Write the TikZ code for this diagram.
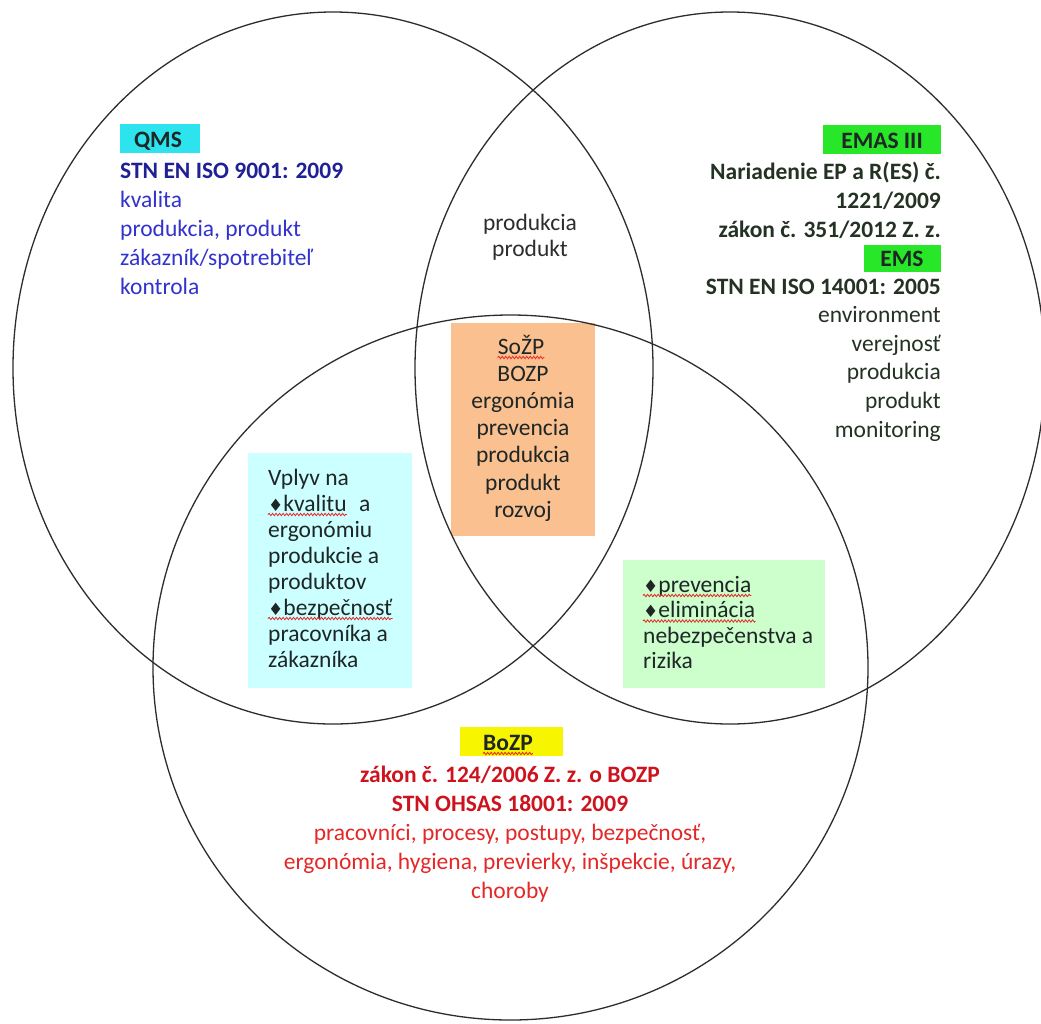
\documentclass[tikz,border=0pt]{standalone}
\usepackage{fontspec}
\setmainfont{Carlito}
\newfontfamily\symf{DejaVu Sans}
\usetikzlibrary{shapes.geometric,decorations.pathmorphing}
\definecolor{wavered}{RGB}{230,40,40}
\definecolor{qmscyan}{RGB}{45,228,238}
\definecolor{emsgreen}{RGB}{40,230,40}
\definecolor{bozpyellow}{RGB}{248,245,0}
\definecolor{orangebox}{RGB}{250,192,143}
\definecolor{cyanbox}{RGB}{204,255,255}
\definecolor{greenbox}{RGB}{204,255,204}
\definecolor{qmsbold}{RGB}{32,32,150}
\definecolor{qmsblue}{RGB}{50,50,205}
\definecolor{emsdark}{RGB}{35,50,35}
\definecolor{bozpbold}{RGB}{205,20,30}
\definecolor{bozpred}{RGB}{228,40,40}
\definecolor{darktext}{RGB}{30,38,38}
\definecolor{midgray}{RGB}{45,45,45}
\definecolor{ringline}{RGB}{45,45,45}
\newcommand\dia{{\symf\fontsize{17}{17}\selectfont ♦}}
\begin{document}
\begin{tikzpicture}[x=1pt,y=-1pt,
  ring/.style={ellipse, draw=ringline, line width=1.3pt, inner sep=0pt},
  tagbox/.style={inner sep=0pt, minimum height=29pt},
  tagtext/.style={inner sep=0pt, anchor=base, font=\fontsize{23.5}{29}\selectfont\bfseries, text=darktext},
  panel/.style={inner sep=0pt, draw=none},
  body/.style={inner sep=0pt, font=\fontsize{23.5}{29}\selectfont},
  wave/.style={draw=wavered, line width=0.8pt, decorate, decoration={snake, amplitude=1.2pt, segment length=3.5pt}}]
\useasboundingbox (0,0) rectangle (1041,1023);
\fill[white] (0,0) rectangle (1041,1023);

% coloured panels
\node[panel, fill=orangebox, minimum width=144pt, minimum height=213pt] (sozpbox) at (523,429.5) {};
\node[panel, fill=cyanbox, minimum width=164pt, minimum height=235pt] (vplyvbox) at (330,570.5) {};
\node[panel, fill=greenbox, minimum width=202pt, minimum height=128pt] (prevbox) at (724,624) {};

% the three sets
\node[ring, minimum width=640pt, minimum height=712pt] (qmsset) at (333,368) {};
\node[ring, minimum width=630pt, minimum height=712pt] (emsset) at (730,368) {};
\node[ring, minimum width=715pt, minimum height=705pt] (bozpset) at (510.5,667.5) {};

% tags
\node[tagbox, fill=qmscyan, minimum width=80pt] (qmstag) at (160,138.5) {};
\node[tagtext] (qmslbl) at (158,147) {QMS};
\node[tagbox, fill=emsgreen, minimum width=118pt] (emastag) at (882,139.5) {};
\node[tagtext] (emaslbl) at (882,148) {EMAS III};
\node[tagbox, fill=emsgreen, minimum width=77pt, minimum height=27pt] (emstag) at (902.5,258.5) {};
\node[tagtext] (emslbl) at (902,266.5) {EMS};
\node[tagbox, fill=bozpyellow, minimum width=103pt] (bozptag) at (511.5,741.5) {};
\node[tagtext] (bozplbl) at (508,750) {BoZP};
\draw[wave] ([yshift=-3.5pt]bozplbl.base west) -- ([yshift=-3.5pt]bozplbl.base east);

% QMS text (base anchor = baseline of last line)
\node[body, text=qmsblue, align=left, anchor=base west] (qmstxt) at (120,294)
  {{\color{qmsbold}\bfseries STN EN ISO 9001: 2009}\\kvalita\\produkcia, produkt\\zákazník/spotrebiteľ\\kontrola};

% EMAS / EMS text
\node[body, text=emsdark, align=right, anchor=base east] (emastxt) at (941,237)
  {\bfseries Nariadenie EP a R(ES) č.\\\bfseries 1221/2009\\\bfseries zákon č. 351/2012 Z. z.};
\node[body, text=emsdark, align=right, anchor=base east, font=\fontsize{23.5}{28.6}\selectfont] (emstxt) at (941,437)
  {\bfseries STN EN ISO 14001: 2005\\environment\\verejnosť\\produkcia\\produkt\\monitoring};

% QMS-EMS intersection
\node[body, text=midgray, align=center, anchor=base, font=\fontsize{23.5}{26}\selectfont] (prodtxt) at (530,256)
  {produkcia\\produkt};

% centre
\node[body, text=darktext, anchor=base] (sozp1) at (521,354) {SoŽP};
\draw[wave] ([yshift=-3.5pt]sozp1.base west) -- ([yshift=-3.5pt]sozp1.base east);
\node[body, text=darktext, align=center, anchor=base, font=\fontsize{23.5}{27.2}\selectfont] (sozptxt) at (523,517.2)
  {BOZP\\ergonómia\\prevencia\\produkcia\\produkt\\rozvoj};

% QMS-BOZP intersection
\node[body, text=darktext, anchor=base west] (vpl1) at (268,485) {Vplyv na};
\node[body, text=darktext, anchor=base west] (vpl2) at (268,511) {\dia kvalitu};
\draw[wave] ([yshift=-3.5pt]vpl2.base west) -- ([yshift=-3.5pt]vpl2.base east);
\node[body, text=darktext, anchor=base west] (vpl2a) at ([xshift=12pt]vpl2.base east) {a};
\node[body, text=darktext, align=left, anchor=base west, font=\fontsize{23.5}{26}\selectfont] (vpl3) at (268,589)
  {ergonómiu\\produkcie a\\produktov};
\node[body, text=darktext, anchor=base west] (vpl6) at (268,615) {\dia bezpečnosť};
\draw[wave] ([yshift=-3.5pt]vpl6.base west) -- ([yshift=-3.5pt]vpl6.base east);
\node[body, text=darktext, align=left, anchor=base west, font=\fontsize{23.5}{26}\selectfont] (vpl7) at (268,667)
  {pracovníka a\\zákazníka};

% EMS-BOZP intersection
\node[body, text=darktext, anchor=base west] (prev1) at (643,592) {\dia prevencia};
\draw[wave] ([yshift=-3.5pt]prev1.base west) -- ([yshift=-3.5pt]prev1.base east);
\node[body, text=darktext, anchor=base west] (prev2) at (643,617.5) {\dia eliminácia};
\draw[wave] ([yshift=-3.5pt]prev2.base west) -- ([yshift=-3.5pt]prev2.base east);
\node[body, text=darktext, align=left, anchor=base west, font=\fontsize{23.5}{25.5}\selectfont] (prev3) at (643,668.5)
  {nebezpečenstva a\\rizika};

% BOZP text
\node[body, text=bozpred, align=center, anchor=base] (bozptxt) at (510,898)
  {{\color{bozpbold}\bfseries zákon č. 124/2006 Z. z. o BOZP}\\{\color{bozpbold}\bfseries STN OHSAS 18001: 2009}\\pracovníci, procesy, postupy, bezpečnosť,\\ergonómia, hygiena, previerky, inšpekcie, úrazy,\\choroby};
\end{tikzpicture}
\end{document}
